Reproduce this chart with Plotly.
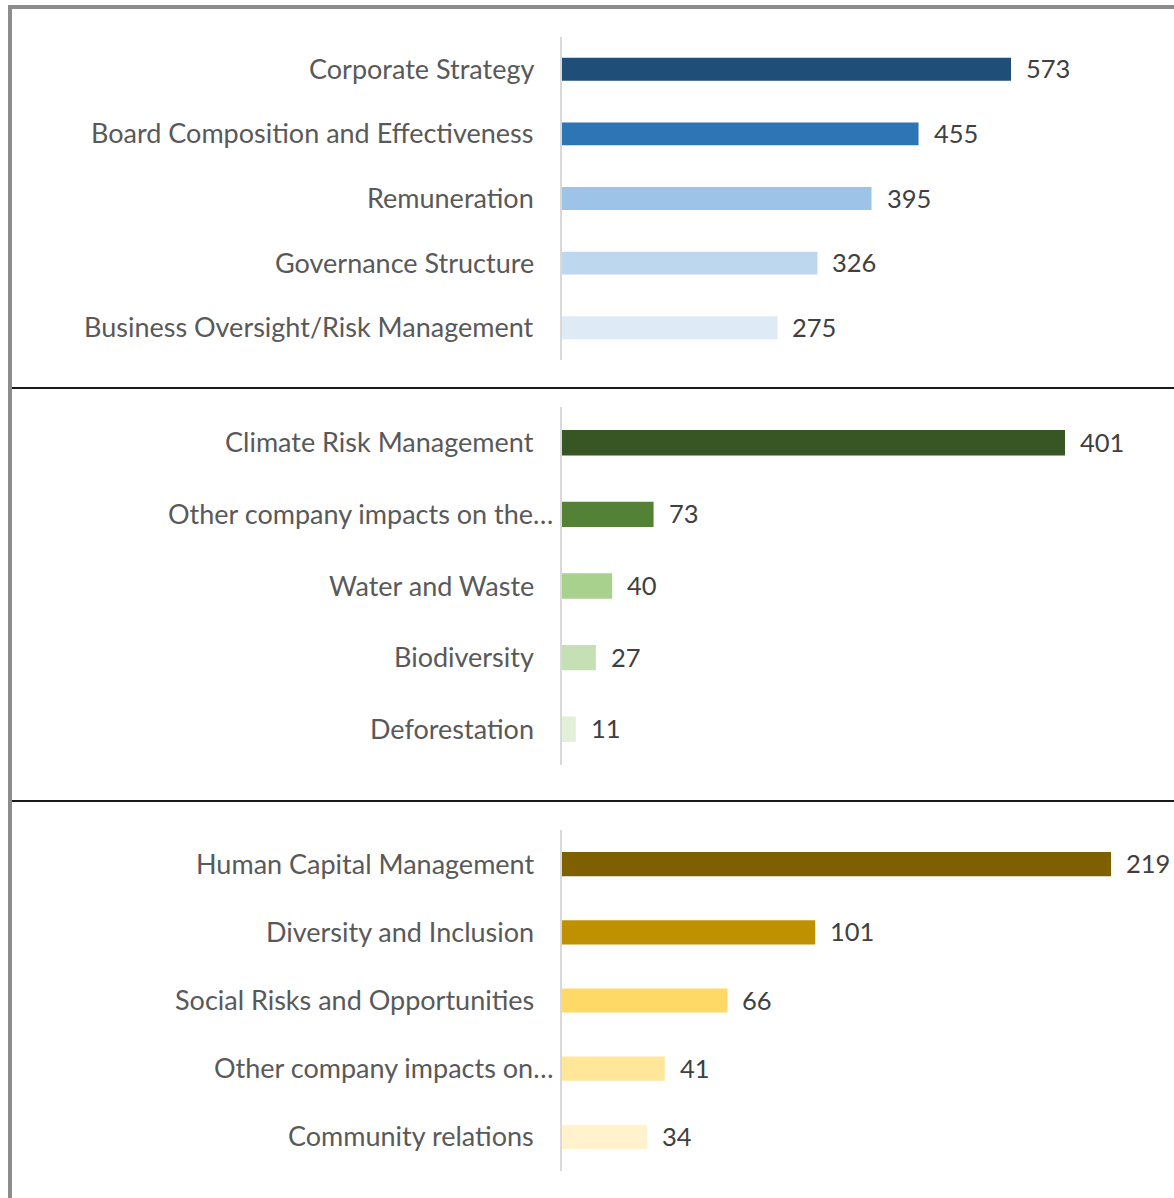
import plotly.graph_objects as go

W, H = 1174, 1198

gov_cats = ["Corporate Strategy", "Board Composition and Effectiveness", "Remuneration",
            "Governance Structure", "Business Oversight/Risk Management"]
gov_vals = [573, 455, 395, 326, 275]
gov_colors = ["#1F4E79", "#2E75B6", "#9DC3E6", "#BDD7EE", "#DEEBF7"]

env_cats = ["Climate Risk Management", "Other company impacts on the…", "Water and Waste",
            "Biodiversity", "Deforestation"]
env_vals = [401, 73, 40, 27, 11]
env_colors = ["#375623", "#538135", "#A9D18E", "#C5E0B4", "#E2F0D9"]

soc_cats = ["Human Capital Management", "Diversity and Inclusion", "Social Risks and Opportunities",
            "Other company impacts on…", "Community relations"]
soc_vals = [219, 101, 66, 41, 34]
soc_colors = ["#7F6000", "#BF9000", "#FFD966", "#FFE699", "#FFF2CC"]

panels = [
    (gov_cats, gov_vals, gov_colors, (37, 360), 781.0),
    (env_cats, env_vals, env_colors, (407, 765), 487.9),
    (soc_cats, soc_vals, soc_colors, (830, 1171), 244.1),
]

FONT = "Lato, 'Open Sans', sans-serif"
x0 = 562 / W

fig = go.Figure()
annotations = []
layout = {}
for i, (cats, vals, cols, (ytop, ybot), xmax) in enumerate(panels, start=1):
    xa = "x" if i == 1 else f"x{i}"
    ya = "y" if i == 1 else f"y{i}"
    fig.add_trace(go.Bar(
        x=vals, y=cats, orientation="h", marker=dict(color=cols, line=dict(width=0)),
        xaxis=xa, yaxis=ya, showlegend=False, hoverinfo="x+y", cliponaxis=False,
    ))
    sfx = "" if i == 1 else str(i)
    layout[f"xaxis{sfx}"] = dict(domain=[x0, 1.0], range=[0, xmax], visible=False,
                                 anchor=ya, fixedrange=True)
    layout[f"yaxis{sfx}"] = dict(domain=[1 - ybot / H, 1 - ytop / H], anchor=xa,
                                 autorange="reversed", showticklabels=False,
                                 showline=True, linecolor="#D9D9D9", linewidth=2,
                                 showgrid=False, zeroline=False, ticks="", fixedrange=True)
    for c, v in zip(cats, vals):
        trunc = c.endswith("…")
        annotations.append(dict(
            x=(555 if trunc else 536) / W, xref="paper", y=c, yref=ya, xanchor="right",
            yanchor="middle", yshift=1, text=c, showarrow=False,
            font=dict(family=FONT, size=27, color="#595959")))
        annotations.append(dict(
            x=v, xref=xa, y=c, yref=ya, xanchor="left", yanchor="middle", xshift=13,
            yshift=1, text=str(v), showarrow=False,
            font=dict(family=FONT, size=25.5, color="#404040")))

shapes = [
    dict(type="line", xref="paper", yref="paper", x0=10 / W, x1=10 / W, y0=0, y1=1 - 5 / H,
         line=dict(color="#8C8C8C", width=4)),
    dict(type="line", xref="paper", yref="paper", x0=8 / W, x1=1, y0=1 - 7 / H, y1=1 - 7 / H,
         line=dict(color="#8C8C8C", width=4)),
    dict(type="line", xref="paper", yref="paper", x0=12 / W, x1=1, y0=1 - 388 / H, y1=1 - 388 / H,
         line=dict(color="#1A1A1A", width=2)),
    dict(type="line", xref="paper", yref="paper", x0=12 / W, x1=1, y0=1 - 801 / H, y1=1 - 801 / H,
         line=dict(color="#1A1A1A", width=2)),
]

fig.update_layout(
    width=W, height=H, margin=dict(l=0, r=0, t=0, b=0),
    paper_bgcolor="white", plot_bgcolor="white",
    bargap=0.645, annotations=annotations, shapes=shapes,
    font=dict(family=FONT), **layout,
)

fig.write_html("out.html", config={"displayModeBar": False},
               post_script="document.body.style.margin='0';document.body.style.overflow='hidden';")
